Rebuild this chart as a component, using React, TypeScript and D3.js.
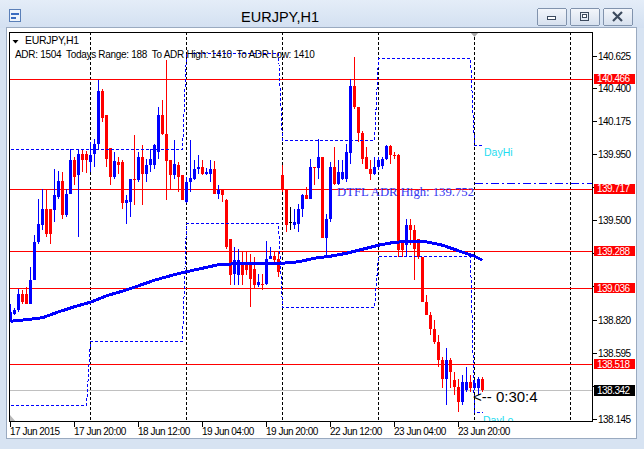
import React from "react";
import * as d3 from "d3";

// ---------- data (hourly bars, 17 Jun 2015 04:00 -> 24 Jun 02:00) ----------
const OPEN = [
  138.807, 138.863, 138.886, 139.0, 139.0, 138.932, 139.091, 139.352, 139.466, 139.579,
  139.579, 139.568, 139.659, 139.766, 139.534, 139.682, 139.913, 139.807, 139.954, 139.954,
  139.898, 139.954, 140.018, 140.386, 140.216, 139.993, 139.795, 139.898, 139.898, 139.62,
  139.625, 139.784, 139.773, 139.932, 139.818, 139.875, 139.875, 139.966, 140.216, 140.091,
  139.909, 139.807, 139.875, 139.807, 139.625, 139.761, 139.784, 139.848, 139.863, 139.818,
  139.818, 139.852, 139.682, 139.704, 139.636, 139.375, 139.136, 139.125, 139.204, 139.204,
  139.204, 139.17, 139.057, 139.068, 139.068, 139.238, 139.257, 139.238, 139.807, 139.711,
  139.488, 139.466, 139.477, 139.579, 139.67, 139.648, 139.863, 139.857, 139.932, 139.379,
  139.507, 139.863, 139.75, 139.784, 139.784, 139.961, 140.42, 140.273, 140.098, 139.932,
  139.852, 139.818, 139.863, 139.87, 139.916, 140.007, 139.948, 139.943, 139.363, 139.329,
  139.466, 139.432, 139.375, 139.25, 138.943, 138.852, 138.761, 138.67, 138.545, 138.42,
  138.545, 138.409, 138.363, 138.261, 138.341, 138.398, 138.352, 138.352, 138.42,
];
const HIGH = [
  138.932, 138.898, 139.034, 139.023, 139.045, 139.182, 139.398, 139.648, 139.716, 139.716,
  139.579, 139.852, 139.834, 139.829, 139.716, 139.988, 139.932, 139.977, 139.988, 139.97,
  140.034, 140.057, 140.459, 140.398, 140.216, 139.993, 139.966, 139.932, 139.909, 139.67,
  139.784, 140.084, 139.966, 140.011, 139.92, 139.988, 140.023, 140.273, 140.318, 140.591,
  139.909, 140.045, 139.898, 139.807, 139.795, 140.045, 139.909, 139.943, 139.909, 139.857,
  139.909, 139.902, 139.738, 139.716, 139.643, 139.375, 139.318, 139.307, 139.284, 139.284,
  139.273, 139.25, 139.136, 139.136, 139.357, 139.318, 139.284, 139.284, 139.875, 139.716,
  139.591, 139.579, 139.613, 139.682, 139.727, 139.92, 139.863, 140.057, 139.932, 139.545,
  139.898, 139.999, 139.909, 139.909, 140.023, 140.466, 140.613, 140.273, 140.113, 139.999,
  139.909, 139.932, 139.932, 139.932, 140.011, 140.011, 139.966, 139.954, 139.363, 139.511,
  139.511, 139.466, 139.375, 139.25, 138.988, 138.875, 138.818, 138.716, 138.568, 138.625,
  138.557, 138.466, 138.42, 138.443, 138.5, 138.443, 138.409, 138.432, 138.432,
];
const LOW = [
  138.807, 138.852, 138.875, 138.932, 138.932, 138.932, 139.091, 139.341, 139.432, 139.386,
  139.341, 139.488, 139.648, 139.511, 139.523, 139.682, 139.738, 139.386, 139.829, 139.825,
  139.829, 139.863, 139.988, 140.17, 139.863, 139.738, 139.784, 139.818, 139.579, 139.477,
  139.523, 139.602, 139.761, 139.602, 139.761, 139.829, 139.852, 139.92, 140.079, 139.636,
  139.704, 139.784, 139.693, 139.636, 139.62, 139.693, 139.773, 139.818, 139.807, 139.807,
  139.761, 139.682, 139.648, 139.625, 139.307, 139.057, 139.057, 139.057, 139.057, 139.125,
  138.909, 139.034, 139.045, 139.023, 139.057, 139.238, 139.193, 139.113, 139.693, 139.42,
  139.432, 139.443, 139.42, 139.523, 139.648, 139.648, 139.738, 139.784, 139.379, 139.261,
  139.488, 139.738, 139.738, 139.773, 139.761, 139.886, 140.261, 140.034, 139.886, 139.852,
  139.773, 139.807, 139.841, 139.852, 139.909, 139.886, 139.92, 139.25, 139.25, 139.25,
  139.329, 139.091, 139.238, 138.943, 138.852, 138.716, 138.659, 138.5, 138.352, 138.239,
  138.352, 138.307, 138.193, 138.239, 138.33, 138.33, 138.341, 138.307, 138.33,
];
const CLOSE = [
  138.875, 138.886, 139.0, 138.943, 138.932, 139.091, 139.352, 139.477, 139.579, 139.409,
  139.409, 139.67, 139.766, 139.534, 139.682, 139.913, 139.795, 139.954, 139.909, 139.909,
  139.948, 140.023, 140.386, 140.198, 139.92, 139.795, 139.902, 139.879, 139.62, 139.636,
  139.784, 139.773, 139.932, 139.818, 139.879, 139.92, 140.011, 140.216, 140.091, 139.902,
  139.807, 139.886, 139.795, 139.636, 139.761, 139.788, 139.852, 139.863, 139.818, 139.829,
  139.852, 139.682, 139.704, 139.67, 139.318, 139.125, 139.227, 139.227, 139.125, 139.159,
  139.102, 139.057, 139.079, 139.057, 139.238, 139.257, 139.227, 139.148, 139.711, 139.466,
  139.488, 139.488, 139.579, 139.67, 139.648, 139.863, 139.857, 139.932, 139.379, 139.511,
  139.863, 139.75, 139.829, 139.829, 139.966, 140.42, 140.273, 140.098, 139.92, 139.852,
  139.818, 139.863, 139.913, 139.92, 140.007, 139.943, 139.938, 139.295, 139.295, 139.466,
  139.432, 139.307, 139.25, 138.943, 138.852, 138.761, 138.67, 138.545, 138.42, 138.545,
  138.466, 138.363, 138.261, 138.398, 138.398, 138.352, 138.386, 138.42, 138.342,
];

// moving average
const MA_BARS = [0, 4, 8, 12, 16, 20, 24, 28, 32, 36, 40, 44, 48, 52, 56, 60, 64, 68, 72, 76, 80, 84, 88, 92, 96, 100, 104, 108, 112, 116, 118];
const MA_VALUES = [
  138.811, 138.822, 138.835, 138.875, 138.91, 138.941, 138.985, 139.016, 139.053, 139.091,
  139.122, 139.149, 139.173, 139.197, 139.203, 139.203, 139.203, 139.207, 139.217, 139.241,
  139.255, 139.275, 139.302, 139.33, 139.35, 139.357, 139.353, 139.33, 139.292, 139.255, 139.227,
];

// daily ADR projection levels
const DAY_START = [0, 20, 44, 68, 92, 116];
const DAY_END = [19, 43, 67, 91, 115, 118];
const DAY_HI = [139.986, 139.986, 140.641, 140.045, 140.609, 140.011];
const DAY_LO = [138.239, 138.673, 139.48, 138.909, 139.255, 138.193];

const PRICE_TICKS = [140.625, 140.4, 140.175, 139.95, 139.725, 139.5, 139.275, 139.05, 138.82, 138.595, 138.37, 138.145];
const PRICE_TICK_LABELS = ["140.625", "140.400", "140.175", "139.950", "139.725", "139.500", "139.275", "139.050", "138.820", "138.595", "138.370", "138.145"];
const TIME_TICK_BARS = [0, 16, 32, 48, 64, 80, 96, 112];
const TIME_TICK_LABELS = ["17 Jun 2015", "17 Jun 20:00", "18 Jun 12:00", "19 Jun 04:00", "19 Jun 20:00", "22 Jun 12:00", "23 Jun 04:00", "23 Jun 20:00"];
const SEPARATOR_BARS = [20, 44, 68, 92, 116, 140];
const LEVELS = [140.466, 139.717, 139.288, 139.036, 138.518];
const LEVEL_LABELS = ["140.466", "139.717", "139.288", "139.036", "138.518"];
const CURRENT_PRICE = 138.342;
const CURRENT_LABEL = "138.342";
const ADR_HIGH = 139.752;
const ADR_HIGH_START_BAR = 116;
const SYMBOL = "EURJPY,H1";
const ADR_TEXT = "ADR: 1504  Todays Range: 188  To ADR High: 1410  To ADR Low: 1410";
const ADR_HIGH_TEXT = "DTFL ADR High: 139.752";
const TIMER_TEXT = "<-- 0:30:4";

const W = 644;
const H = 449;
const PL = 9, PR = 593, PT = 32, PB = 422;
const SANS = "'Liberation Sans', Arial, sans-serif";

export default function App() {
  const x = d3.scaleLinear().domain([0, 1]).range([10, 14]);
  const y = d3.scaleLinear().domain([138.145, 140.625]).range([418.8, 55.5]);
  const cx = (i: number) => x(i) + 0.5;
  const ry = (p: number) => Math.round(y(p)) + 0.5;

  const boxPrices = [...LEVELS, CURRENT_PRICE];
  const hiddenByBox = (p: number) => boxPrices.some((b) => Math.abs(y(b) - y(p)) < 9);

  const maLine = d3
    .line<number>()
    .x((_, k) => cx(MA_BARS[k]))
    .y((v) => y(v))(MA_VALUES) as string;

  const stepPts = (levels: number[]) => {
    const pts: [number, number][] = [];
    levels.forEach((lv, d) => {
      pts.push([DAY_START[d], lv]);
      pts.push([DAY_END[d], lv]);
    });
    return d3
      .line<[number, number]>()
      .x((p) => cx(p[0]))
      .y((p) => Math.round(y(p[1])) + 0.5)(pts) as string;
  };

  const candles = OPEN.map((o, i) => {
    const c = CLOSE[i];
    const color = c > o ? "#0000ff" : c < o ? "#ff0000" : "#000000";
    const xi = x(i);
    const top = Math.round(y(Math.max(o, c)));
    const bot = Math.round(y(Math.min(o, c)));
    const hi = Math.round(y(HIGH[i]));
    const lo = Math.round(y(LOW[i]));
    return (
      <g key={i} fill={color}>
        <rect x={xi} y={hi} width={1} height={Math.max(1, lo - hi)} />
        <rect x={xi - 1} y={top} width={3} height={Math.max(1, bot - top)} />
      </g>
    );
  });

  return (
    <svg
      width={W}
      height={H}
      style={{ position: "absolute", left: 0, top: 0, display: "block" }}
      shapeRendering="crispEdges"
    >
      <defs>
        <linearGradient id="title" x1="0" y1="0" x2="0" y2="1">
          <stop offset="0" stopColor="#e4edf8" />
          <stop offset="1" stopColor="#d3e0f1" />
        </linearGradient>
        <linearGradient id="btn" x1="0" y1="0" x2="0" y2="1">
          <stop offset="0" stopColor="#f3f6fb" />
          <stop offset="1" stopColor="#d6e0ee" />
        </linearGradient>
        <clipPath id="plotClip">
          <rect x={PL} y={PT} width={PR - PL} height={PB - PT} />
        </clipPath>
      </defs>

      {/* window chrome */}
      <rect x={0} y={0} width={W} height={H} fill="#d7e3f2" />
      <rect x={0} y={0} width={W} height={28} fill="url(#title)" />
      <g>
        <rect x={9.5} y={9.5} width={11} height={12} fill="#eef4fb" stroke="#5a7fb8" />
        <rect x={11} y={13} width={8} height={2} fill="#3a6cc0" />
        <rect x={11} y={17} width={5} height={2} fill="#3a6cc0" />
      </g>
      <text x={280} y={22} textAnchor="middle" fontFamily={SANS} fontSize={14.5} fill="#000" shapeRendering="auto">
        {SYMBOL}
      </text>
      {[537, 570, 603].map((bx, k) => (
        <g key={bx}>
          <rect x={bx + 0.5} y={8.5} width={29} height={17} rx={2} fill="url(#btn)" stroke="#8193ad" />
          {k === 0 && <rect x={bx + 10.5} y={16.5} width={8} height={3} fill="#fff" stroke="#3c4a5e" />}
          {k === 1 && (
            <g>
              <rect x={bx + 10.5} y={12.5} width={8} height={8} fill="none" stroke="#3c4a5e" />
              <rect x={bx + 12.5} y={14.5} width={4} height={3} fill="#fff" stroke="#3c4a5e" />
            </g>
          )}
          {k === 2 && (
            <path
              d={`M${bx + 10},${12} L${bx + 19},${21} M${bx + 19},${12} L${bx + 10},${21}`}
              stroke="#3c4a5e"
              strokeWidth={2.2}
              shapeRendering="auto"
            />
          )}
        </g>
      ))}

      {/* chart window */}
      <rect x={6.5} y={27.5} width={630} height={411} fill="#ffffff" stroke="#9aaac0" />

      <g clipPath="url(#plotClip)">
        {/* day separators */}
        {SEPARATOR_BARS.map((b) => (
          <line key={b} x1={cx(b)} x2={cx(b)} y1={PT} y2={PB} stroke="#000" strokeDasharray="3,2" />
        ))}
        {/* horizontal levels */}
        <line x1={PL} x2={PR} y1={ry(CURRENT_PRICE)} y2={ry(CURRENT_PRICE)} stroke="#c0c0c0" />
        {LEVELS.map((lv) => (
          <line key={lv} x1={PL} x2={PR} y1={ry(lv)} y2={ry(lv)} stroke="#ff0000" />
        ))}

        {candles}

        <path d={maLine} fill="none" stroke="#0000ff" strokeWidth={3} />

        <path d={stepPts(DAY_HI)} fill="none" stroke="#0000ff" strokeDasharray="3,2" />
        <path d={stepPts(DAY_LO)} fill="none" stroke="#0000ff" strokeDasharray="3,2" />
        <line
          x1={cx(ADR_HIGH_START_BAR)}
          x2={PR}
          y1={ry(ADR_HIGH)}
          y2={ry(ADR_HIGH)}
          stroke="#0000ff"
          strokeDasharray="8,3,2,3"
        />

        <g shapeRendering="auto">
          <text x={474} y={195.5} textAnchor="end" fontFamily="'Liberation Serif', 'Times New Roman', serif" fontSize={12.7} fill="#3535f0">
            {ADR_HIGH_TEXT}
          </text>
          <text x={484} y={156} fontFamily={SANS} fontSize={10.5} fill="#1fdcf0">
            DayHi
          </text>
          <text x={483} y={424} fontFamily={SANS} fontSize={10.5} fill="#1fdcf0">
            DayLo
          </text>
          <text x={473} y={401.5} fontFamily={SANS} fontSize={15} fill="#000">
            {TIMER_TEXT}
          </text>
        </g>

        {/* shift markers */}
        <path d="M470,32 L479,32 L474.5,37 Z" fill="#a8a8a8" shapeRendering="auto" />
        <path d="M10,415 L10,422 L16,422 Z" fill="#b8b8b8" shapeRendering="auto" />
      </g>

      {/* plot frame */}
      <rect x={PL + 0.5} y={PT + 0.5} width={PR - PL - 1} height={PB - PT - 1} fill="none" stroke="#000" />

      {/* price axis */}
      <g fontFamily={SANS} fontSize={10} style={{ letterSpacing: "-0.5px" }}>
        {PRICE_TICKS.map((p, k) => (
          <g key={p}>
            <line x1={PR} x2={PR + 4} y1={ry(p)} y2={ry(p)} stroke="#000" />
            {!hiddenByBox(p) && (
              <text x={598} y={y(p) + 4} fill="#000" shapeRendering="auto">
                {PRICE_TICK_LABELS[k]}
              </text>
            )}
          </g>
        ))}
        {LEVELS.map((lv, k) => (
          <g key={lv}>
            <rect x={594} y={Math.round(y(lv)) - 5} width={41} height={10} fill="#ff0000" />
            <text x={597} y={y(lv) + 3.5} fill="#fff" shapeRendering="auto">
              {LEVEL_LABELS[k]}
            </text>
          </g>
        ))}
        <rect x={594} y={Math.round(y(CURRENT_PRICE)) - 5} width={41} height={11} fill="#000" />
        <text x={597} y={y(CURRENT_PRICE) + 4} fill="#fff" shapeRendering="auto">
          {CURRENT_LABEL}
        </text>
      </g>

      {/* time axis */}
      <g fontFamily={SANS} fontSize={10} style={{ letterSpacing: "-0.5px" }}>
        {TIME_TICK_BARS.map((b, k) => (
          <g key={b}>
            <line x1={cx(b)} x2={cx(b)} y1={PB} y2={PB + 5} stroke="#000" />
            <text x={x(b)} y={435} fill="#000" shapeRendering="auto">
              {TIME_TICK_LABELS[k]}
            </text>
          </g>
        ))}
      </g>

      {/* header texts */}
      <path d="M12.5,40 L18.5,40 L15.5,43.5 Z" fill="#000" shapeRendering="auto" />
      <text x={25} y={44} fontFamily={SANS} fontSize={10.5} fill="#000" style={{ letterSpacing: "-0.3px" }}>
        {SYMBOL}
      </text>
      <text x={15} y={57.5} fontFamily={SANS} fontSize={10} fill="#000" style={{ letterSpacing: "-0.3px", whiteSpace: "pre" }}>
        {ADR_TEXT}
      </text>
    </svg>
  );
}
